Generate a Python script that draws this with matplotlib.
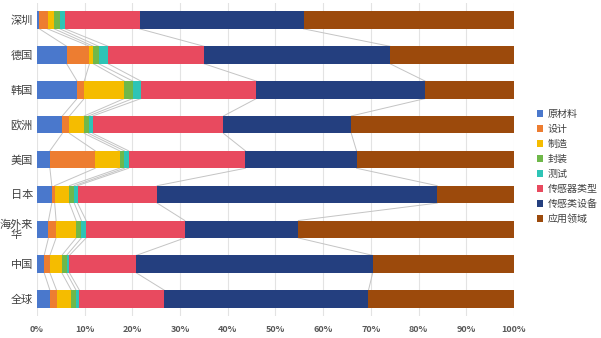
import matplotlib
matplotlib.use("Agg")
import matplotlib.pyplot as plt
import numpy as np
from matplotlib.ticker import FuncFormatter

plt.rcParams['font.family'] = ['Noto Sans CJK SC', 'DejaVu Sans']

categories = ["深圳", "德国", "韩国", "欧洲", "美国", "日本", "海外来\n华", "中国", "全球"]
series_names = ["原材料", "设计", "制造", "封装", "测试", "传感器类型", "传感类设备", "应用领域"]
colors = ["#4a78cc", "#ed7d31", "#f5bc00", "#6fb84a", "#2ec4b6", "#e84a5f", "#243f7f", "#9c4a0c"]

raw_materials = [0.5, 6.2, 8.4, 5.3, 2.7, 3.1, 2.4, 1.5, 2.7]
design        = [1.7, 4.8, 1.5, 1.5, 9.5, 0.6, 1.6, 1.2, 1.4]
manufacturing = [1.4, 0.8, 8.4, 3.1, 5.1, 3.1, 4.2, 2.5, 3.1]
packaging     = [1.2, 1.1, 1.8, 0.9, 1.0, 1.0, 1.1, 1.0, 1.0]
testing       = [1.1, 2.0, 1.7, 0.9, 0.9, 0.7, 1.0, 0.6, 0.7]
sensor_types  = [15.6, 20.1, 24.2, 27.4, 24.5, 16.7, 20.7, 14.0, 17.8]
sensor_equip  = [34.4, 39.0, 35.4, 26.8, 23.3, 58.7, 23.8, 49.6, 42.8]
applications  = [44.1, 26.0, 18.6, 34.1, 33.0, 16.1, 45.2, 29.6, 30.5]

data = np.array([raw_materials, design, manufacturing, packaging, testing,
                 sensor_types, sensor_equip, applications], dtype=float)
data = data / data.sum(axis=0) * 100

fig = plt.figure(figsize=(6.01, 3.38), dpi=100)
ax = fig.add_axes([0.0616, 0.064, 0.7935, 0.928])

y = np.arange(len(categories))
bar_h = 0.5
left = np.zeros(len(categories))
for i, name in enumerate(series_names):
    ax.barh(y, data[i], left=left, height=bar_h, color=colors[i], label=name, zorder=3)
    left = left + data[i]

# series lines connecting segment ends
cum = np.cumsum(data, axis=0)
for i in range(len(series_names) - 1):
    for j in range(len(categories) - 1):
        ax.plot([cum[i, j], cum[i, j + 1]], [y[j] + bar_h / 2, y[j + 1] - bar_h / 2],
                color="#c4c4c4", lw=0.7, zorder=2)

ax.set_xlim(0, 100)
ax.set_ylim(len(categories) - 0.5, -0.5)
ax.set_xticks(np.arange(0, 101, 10))
ax.xaxis.set_major_formatter(FuncFormatter(lambda v, p: f"{int(v)}%"))
ax.set_yticks(y)
ax.set_yticklabels(categories, fontsize=8, color="#404040", linespacing=1.0)
for lab in ax.get_yticklabels():
    lab.set_multialignment('center')
ax.tick_params(axis='x', labelsize=6.5, colors="#595959", length=0, pad=6)
ax.tick_params(axis='y', length=0, pad=3)
for lab in ax.get_xticklabels():
    lab.set_fontweight('bold')
ax.grid(axis='x', color="#e3e3e3", lw=0.8, zorder=0)
for s in ax.spines.values():
    s.set_visible(False)

leg = ax.legend(loc='center left', bbox_to_anchor=(1.04, 0.478), frameon=False,
                fontsize=7.2, handlelength=0.6, handleheight=0.6, handletextpad=0.5,
                labelspacing=0.5, borderaxespad=0)
for t in leg.get_texts():
    t.set_color("#404040")

fig.savefig("out.png", dpi=100)
